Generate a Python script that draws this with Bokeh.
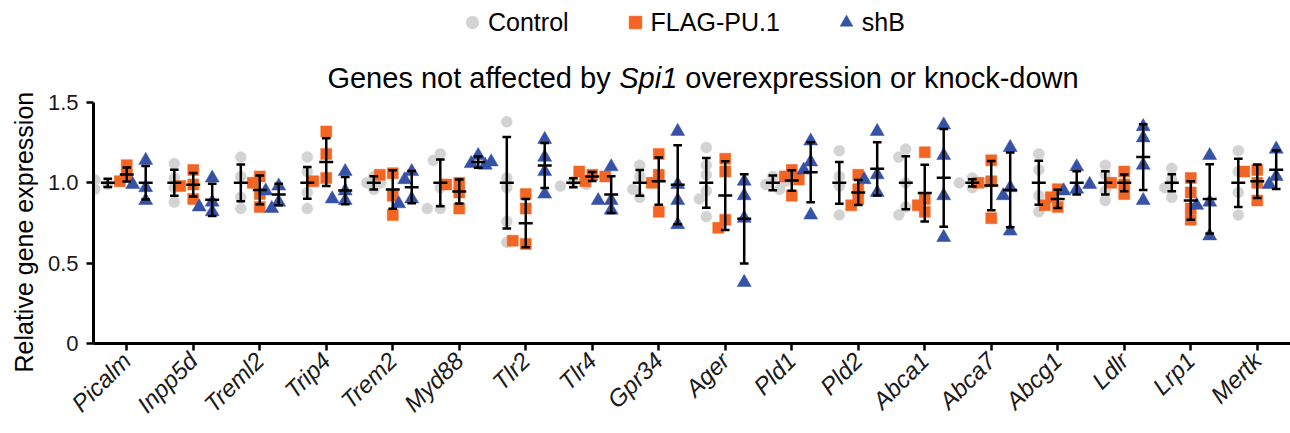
import math
from bokeh.plotting import figure
from bokeh.models import Range1d, FixedTicker, Label, Legend, LegendItem, ColumnDataSource, Title
from bokeh.embed import file_html
from bokeh.resources import INLINE

# ---------------- data ----------------
genes = ["Picalm", "Inpp5d", "Treml2", "Trip4", "Trem2", "Myd88", "Tlr2", "Tlr4", "Gpr34",
         "Ager", "Pld1", "Pld2", "Abca1", "Abca7", "Abcg1", "Ldlr", "Lrp1", "Mertk"]
groups = ["Control", "FLAG-PU.1", "shB"]

ctrl_mean = [1.0, 1.0, 1.0, 1.0, 1.0, 1.0, 1.0, 1.0, 1.0, 1.0, 1.0, 1.0, 1.0, 1.0, 1.0, 1.0, 1.0, 1.0]
ctrl_sd = [0.026, 0.081, 0.114, 0.099, 0.041, 0.145, 0.285, 0.028, 0.080,
           0.155, 0.046, 0.130, 0.165, 0.023, 0.137, 0.072, 0.053, 0.150]
ctrl_pts = [
    [0.99, 0.96, 1.02, 1.01],
    [1.12, 0.88, 0.97, 1.03],
    [1.16, 1.04, 0.91, 0.84],
    [1.16, 1.07, 0.94, 0.84],
    [1.04, 0.96, 1.00, 1.00],
    [1.18, 1.14, 0.97, 0.84, 0.84],
    [1.38, 1.03, 0.97, 0.76, 0.63],
    [1.01, 0.98, 1.00, 0.99],
    [1.11, 0.91, 1.04, 0.96],
    [1.22, 1.11, 1.05, 0.95, 0.90, 0.79],
    [1.04, 0.99, 0.96, 1.01],
    [1.20, 1.04, 0.98, 0.80],
    [1.21, 1.16, 1.00, 0.85, 0.80],
    [1.03, 1.00, 0.97, 1.00],
    [1.18, 1.08, 0.92, 0.82],
    [1.11, 1.05, 0.95, 0.89],
    [1.09, 1.02, 0.97, 0.91],
    [1.20, 1.07, 0.94, 0.80],
]

flag_mean = [1.052, 0.988, 0.956, 1.129, 0.958, 0.946, 0.749, 1.040, 1.010,
             0.921, 1.015, 0.940, 0.936, 0.983, 0.900, 1.000, 0.890, 1.010]
flag_sd = [0.044, 0.073, 0.090, 0.149, 0.120, 0.075, 0.150, 0.028, 0.147,
           0.214, 0.064, 0.078, 0.176, 0.153, 0.057, 0.052, 0.120, 0.104]
flag_pts = [
    [1.11, 1.05, 1.01],
    [1.08, 0.99, 0.90, 0.98],
    [1.04, 0.93, 0.85, 1.00],
    [1.32, 1.18, 1.03, 1.01],
    [1.06, 1.05, 0.92, 0.80],
    [1.00, 0.94, 0.84, 0.99],
    [0.93, 0.84, 0.62, 0.64],
    [1.05, 1.07, 1.01, 1.04],
    [1.18, 1.05, 1.00, 0.82],
    [1.15, 1.07, 0.77, 0.72],
    [1.08, 1.04, 0.92, 1.02],
    [1.05, 0.96, 0.90, 0.86],
    [1.19, 0.90, 0.86, 0.82],
    [1.14, 1.01, 1.00, 0.78],
    [0.96, 0.91, 0.85, 0.86],
    [1.07, 0.99, 0.93, 1.00],
    [1.03, 0.94, 0.84, 0.77],
    [1.08, 1.07, 0.89, 1.00],
]

shb_mean = [1.000, 0.894, 0.927, 0.952, 0.973, 1.129, 1.108, 0.927, 0.988,
            0.776, 1.066, 1.087, 1.031, 0.956, 1.000, 1.160, 0.900, 1.081]
shb_sd = [0.104, 0.100, 0.067, 0.085, 0.100, 0.035, 0.140, 0.114, 0.246,
          0.278, 0.187, 0.166, 0.304, 0.233, 0.072, 0.205, 0.215, 0.120]
shb_pts = [
    [1.14, 0.97, 0.89, 0.99],
    [1.03, 0.88, 0.82, 0.85],
    [0.98, 0.95, 0.88, 0.84],
    [1.07, 0.95, 0.89, 0.90],
    [1.07, 1.02, 0.90, 0.87],
    [1.17, 1.12, 1.11, 1.13],
    [1.27, 1.16, 1.07, 0.93],
    [1.10, 0.89, 0.83, 0.89],
    [1.32, 0.99, 0.89, 0.74],
    [1.01, 0.92, 0.78, 0.38],
    [1.26, 1.13, 1.08, 0.80],
    [1.32, 1.05, 1.02, 0.94],
    [1.36, 1.17, 0.92, 0.66],
    [1.22, 0.97, 0.92, 0.70],
    [1.10, 0.96, 0.95, 0.99],
    [1.35, 1.28, 1.11, 0.89],
    [1.17, 0.88, 0.86, 0.67],
    [1.21, 1.04, 0.99],
]

y_ticks = [0, 0.5, 1.0, 1.5]
y_tick_labels = ["0", "0.5", "1.0", "1.5"]

# ---------------- styling ----------------
FONT = "Liberation Sans"
colors = ["#D3D3D3", "#F26522", "#3552A6"]
markers = ["circle", "square", "triangle"]
msizes = [11, 11, 14]
offsets = [-0.285, 0.0, 0.285]
FRAME_BOTTOM = 343          # canvas px of y = 0
PX_Y = 160.67               # px per unit of y (1.5 at canvas y = 102)
PX_X = 66.5                 # px per category
Y_MAX = FRAME_BOTTOM / PX_Y  # frame reaches the top of the canvas

p = figure(width=1290, height=433, output_backend="svg", toolbar_location=None,
           x_range=Range1d(-0.5, 17.5), y_range=Range1d(0, Y_MAX),
           min_border_left=93, min_border_right=0, min_border_top=0, min_border_bottom=90)
p.outline_line_color = None
p.xgrid.visible = False
p.ygrid.visible = False
p.background_fill_color = "white"


def swarm(vals):
    placed = []
    out = []
    cands = [0, -7, 7, -13, 13]
    for v in vals:
        chosen = cands[-1]
        for c in cands:
            if all(math.hypot(c - px, (v - pv) * PX_Y) >= 9 for px, pv in placed):
                chosen = c
                break
        placed.append((chosen, v))
        out.append(chosen / PX_X)
    return out


means = [ctrl_mean, flag_mean, shb_mean]
sds = [ctrl_sd, flag_sd, shb_sd]
pts = [ctrl_pts, flag_pts, shb_pts]

renderers = []
for g in range(3):
    xs, ys = [], []
    for i in range(len(genes)):
        jit = swarm(pts[g][i])
        for v, j in zip(pts[g][i], jit):
            xs.append(i + offsets[g] + j)
            ys.append(v)
    r = p.scatter(x=xs, y=ys, marker=markers[g], size=msizes[g], fill_color=colors[g],
                  line_color=colors[g], line_width=0.5)
    renderers.append(r)

# error bars (mean +/- SD)
for g in range(3):
    xc = [i + offsets[g] for i in range(len(genes))]
    lo = [m - s for m, s in zip(means[g], sds[g])]
    hi = [m + s for m, s in zip(means[g], sds[g])]
    src = ColumnDataSource(dict(x=xc, lo=lo, hi=hi, m=means[g],
                                cl=[x - 0.065 for x in xc], cr=[x + 0.065 for x in xc],
                                ml=[x - 0.105 for x in xc], mr=[x + 0.105 for x in xc]))
    p.segment(x0="x", y0="lo", x1="x", y1="hi", source=src, line_color="black", line_width=2.5)
    p.segment(x0="cl", y0="lo", x1="cr", y1="lo", source=src, line_color="black", line_width=2.5)
    p.segment(x0="cl", y0="hi", x1="cr", y1="hi", source=src, line_color="black", line_width=2.5)
    p.segment(x0="ml", y0="m", x1="mr", y1="m", source=src, line_color="black", line_width=2.5)

# axes
for ax in (p.xaxis[0], p.yaxis[0]):
    ax.axis_line_width = 3
    ax.axis_line_color = "black"
    ax.major_tick_line_width = 2.5
    ax.major_tick_line_color = "black"
    ax.major_tick_out = 7
    ax.major_tick_in = 0
    ax.minor_tick_line_color = None
    ax.major_label_text_font = FONT
    ax.major_label_text_color = "#1a1a1a"

p.yaxis.bounds = (0, 1.5)
p.yaxis.ticker = FixedTicker(ticks=y_ticks)
p.yaxis.major_label_overrides = {t: s for t, s in zip(y_ticks, y_tick_labels)}
p.yaxis.major_label_text_font_size = "22px"
p.yaxis.major_label_standoff = 8

# y-axis title, placed to sit centred on the 0..1.5 axis line
p.add_layout(Title(text="Relative gene expression", align="left", offset=-29,
                   text_font=FONT, text_font_size="25px", text_font_style="normal",
                   text_color="black", standoff=14), "left")

p.xaxis.ticker = FixedTicker(ticks=list(range(len(genes))))
p.xaxis.major_label_overrides = {i: gname for i, gname in enumerate(genes)}
p.xaxis.major_label_orientation = math.pi / 4
p.xaxis.major_label_text_font_style = "italic"
p.xaxis.major_label_text_font_size = "24px"
p.xaxis.major_label_standoff = 6

# title with italic gene name (screen units relative to frame bottom-left)
TS = 29
w1 = 10.062 * TS
w2 = 2.001 * TS
wsp = 0.278 * TS
total = 25.901 * TS
x0 = 702.5 - total / 2 - 93
ty = FRAME_BOTTOM - 77
p.add_layout(Label(x=x0, y=ty, x_units="screen", y_units="screen", text="Genes not affected by",
                   text_font=FONT, text_font_size=f"{TS}px", text_baseline="alphabetic",
                   text_align="left", text_color="black"))
p.add_layout(Label(x=x0 + w1, y=ty, x_units="screen", y_units="screen", text="Spi1",
                   text_font=FONT, text_font_size=f"{TS}px", text_font_style="italic",
                   text_baseline="alphabetic", text_align="left", text_color="black"))
p.add_layout(Label(x=x0 + w1 + w2 + wsp, y=ty, x_units="screen", y_units="screen",
                   text="overexpression or knock-down",
                   text_font=FONT, text_font_size=f"{TS}px", text_baseline="alphabetic",
                   text_align="left", text_color="black"))

legend = Legend(items=[LegendItem(label=groups[g], renderers=[renderers[g]]) for g in range(3)],
                orientation="horizontal", location=(456 - 93, FRAME_BOTTOM - 38),
                glyph_width=32, glyph_height=32, label_standoff=0, spacing=50,
                padding=0, margin=0, border_line_color=None, background_fill_alpha=0,
                label_text_font=FONT, label_text_font_size="25px", label_text_color="black")
p.add_layout(legend)

open("out.html", "w").write(file_html(p, INLINE))
